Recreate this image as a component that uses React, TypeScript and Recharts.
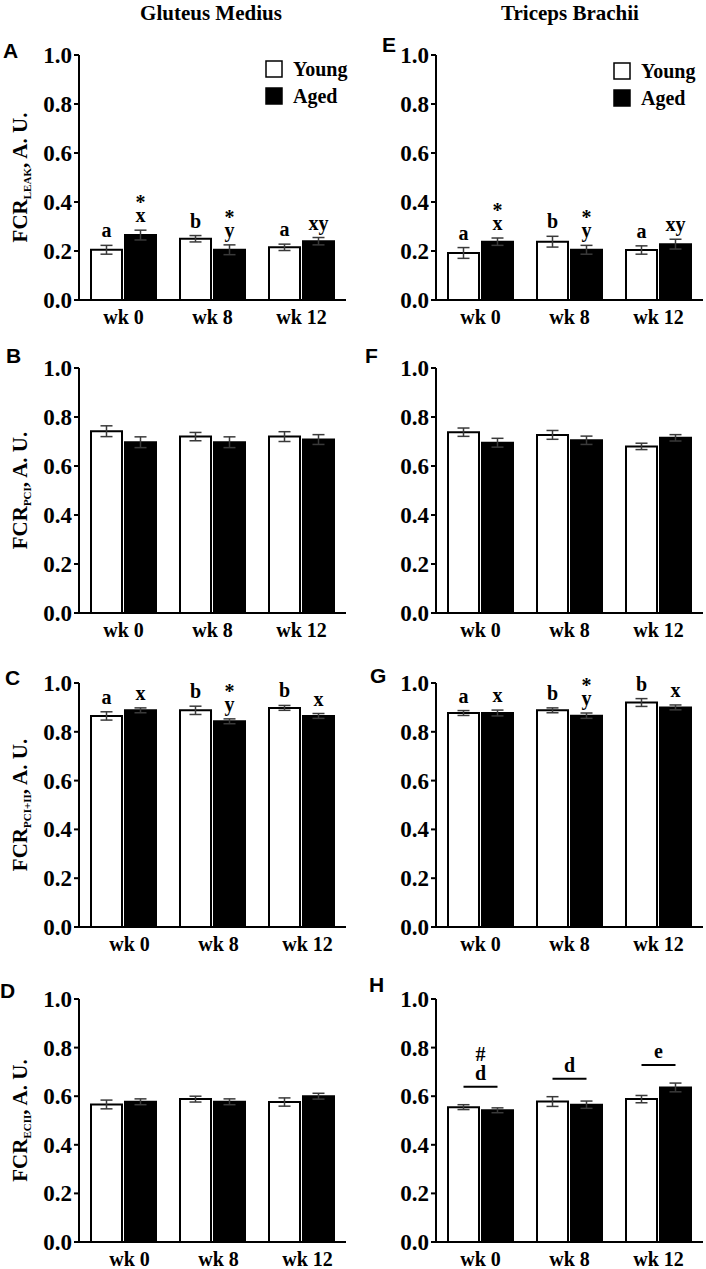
import React from 'react';
import { BarChart, Bar, XAxis, YAxis, ErrorBar, LabelList } from 'recharts';

const weeks = ['wk 0', 'wk 8', 'wk 12'];
const yTicks = [0, 0.2, 0.4, 0.6, 0.8, 1.0];

// A  gluteus medius, LEAK
const gmLeakYoung = [0.205, 0.25, 0.215];
const gmLeakYoungErr = [0.018, 0.013, 0.013];
const gmLeakAged = [0.265, 0.205, 0.24];
const gmLeakAgedErr = [0.02, 0.02, 0.015];
const gmLeakYoungNotes = [['a'], ['b'], ['a']];
const gmLeakAgedNotes = [['*', 'x'], ['*', 'y'], ['xy']];

// B  gluteus medius, PCI
const gmPciYoung = [0.742, 0.72, 0.72];
const gmPciYoungErr = [0.022, 0.017, 0.02];
const gmPciAged = [0.697, 0.697, 0.708];
const gmPciAgedErr = [0.022, 0.022, 0.02];

// C  gluteus medius, PCI+II
const gmPci2Young = [0.865, 0.888, 0.898];
const gmPci2YoungErr = [0.017, 0.017, 0.01];
const gmPci2Aged = [0.888, 0.843, 0.865];
const gmPci2AgedErr = [0.01, 0.01, 0.01];
const gmPci2YoungNotes = [['a'], ['b'], ['b']];
const gmPci2AgedNotes = [['x'], ['*', 'y'], ['x']];

// D  gluteus medius, ECII
const gmEciiYoung = [0.566, 0.588, 0.576];
const gmEciiYoungErr = [0.018, 0.012, 0.017];
const gmEciiAged = [0.577, 0.577, 0.6];
const gmEciiAgedErr = [0.012, 0.012, 0.012];

// E  triceps brachii, LEAK
const tbLeakYoung = [0.192, 0.238, 0.204];
const tbLeakYoungErr = [0.022, 0.022, 0.017];
const tbLeakAged = [0.238, 0.205, 0.228];
const tbLeakAgedErr = [0.015, 0.018, 0.02];
const tbLeakYoungNotes = [['a'], ['b'], ['a']];
const tbLeakAgedNotes = [['*', 'x'], ['*', 'y'], ['xy']];

// F  triceps brachii, PCI
const tbPciYoung = [0.738, 0.727, 0.68];
const tbPciYoungErr = [0.017, 0.018, 0.013];
const tbPciAged = [0.695, 0.705, 0.715];
const tbPciAgedErr = [0.018, 0.017, 0.013];

// G  triceps brachii, PCI+II
const tbPci2Young = [0.877, 0.888, 0.92];
const tbPci2YoungErr = [0.01, 0.01, 0.016];
const tbPci2Aged = [0.877, 0.866, 0.9];
const tbPci2AgedErr = [0.012, 0.011, 0.01];
const tbPci2YoungNotes = [['a'], ['b'], ['b']];
const tbPci2AgedNotes = [['x'], ['*', 'y'], ['x']];

// H  triceps brachii, ECII
const tbEciiYoung = [0.555, 0.578, 0.588];
const tbEciiYoungErr = [0.01, 0.02, 0.015];
const tbEciiAged = [0.542, 0.565, 0.636];
const tbEciiAgedErr = [0.01, 0.015, 0.018];
const tbEciiGroupNotes = [['#', 'd'], ['d'], ['e']];

const SERIF = '"Liberation Serif", "Times New Roman", serif';
const SANS = '"Liberation Sans", Arial, sans-serif';
const BAR_GAP = 3;
const ERR_COLOR = '#3a3a3a';

const rowTops = [55, 368, 683, 999];
const rowHeights = [245, 245, 244, 243];
const MARGIN_TOP = 30;
const XAXIS_H = 40;

type Row = { week: string; young: number; youngErr: number; aged: number; agedErr: number };

function makeRows(y: number[], ye: number[], a: number[], ae: number[]): Row[] {
  return weeks.map((week, i) => ({ week, young: y[i], youngErr: ye[i], aged: a[i], agedErr: ae[i] }));
}

type Panel = {
  letter: string;
  col: 0 | 1;
  row: number;
  sub?: string;
  rows: Row[];
  youngNotes?: string[][];
  agedNotes?: string[][];
  groupNotes?: string[][];
  tickDx?: number;
};

const panels: Panel[] = [
  { letter: 'A', col: 0, row: 0, sub: 'LEAK', rows: makeRows(gmLeakYoung, gmLeakYoungErr, gmLeakAged, gmLeakAgedErr), youngNotes: gmLeakYoungNotes, agedNotes: gmLeakAgedNotes },
  { letter: 'B', col: 0, row: 1, sub: 'PCI', rows: makeRows(gmPciYoung, gmPciYoungErr, gmPciAged, gmPciAgedErr) },
  { letter: 'C', col: 0, row: 2, sub: 'PCI+II', rows: makeRows(gmPci2Young, gmPci2YoungErr, gmPci2Aged, gmPci2AgedErr), youngNotes: gmPci2YoungNotes, agedNotes: gmPci2AgedNotes, tickDx: 6 },
  { letter: 'D', col: 0, row: 3, sub: 'ECII', rows: makeRows(gmEciiYoung, gmEciiYoungErr, gmEciiAged, gmEciiAgedErr), tickDx: 6 },
  { letter: 'E', col: 1, row: 0, rows: makeRows(tbLeakYoung, tbLeakYoungErr, tbLeakAged, tbLeakAgedErr), youngNotes: tbLeakYoungNotes, agedNotes: tbLeakAgedNotes },
  { letter: 'F', col: 1, row: 1, rows: makeRows(tbPciYoung, tbPciYoungErr, tbPciAged, tbPciAgedErr) },
  { letter: 'G', col: 1, row: 2, rows: makeRows(tbPci2Young, tbPci2YoungErr, tbPci2Aged, tbPci2AgedErr), youngNotes: tbPci2YoungNotes, agedNotes: tbPci2AgedNotes },
  { letter: 'H', col: 1, row: 3, rows: makeRows(tbEciiYoung, tbEciiYoungErr, tbEciiAged, tbEciiAgedErr), groupNotes: tbEciiGroupNotes },
];

const boldSerif = { fontFamily: SERIF, fontWeight: 700, fill: '#000' };

// letters stacked over one bar, just above its error bar
function barNote(rows: Row[], key: 'young' | 'aged', notes: string[][]) {
  return (props: any) => {
    const vb = props.viewBox || props;
    const x = Number(vb.x ?? props.x);
    const y = Number(vb.y ?? props.y);
    const width = Number(vb.width ?? props.width);
    const height = Number(vb.height ?? props.height);
    const lines = notes[props.index];
    if (!lines) return null;
    const r = rows[props.index];
    const perUnit = height / r[key];
    const top = y - perUnit * (key === 'young' ? r.youngErr : r.agedErr);
    const cx = x + width / 2;
    return (
      <text textAnchor="middle" fontSize={20} style={boldSerif}>
        {lines.map((l, i) => (
          <tspan key={i} x={cx} y={top - 8 - (lines.length - 1 - i) * 13}>{l}</tspan>
        ))}
      </text>
    );
  };
}

// line across both bars of a week, with letters on top (drawn from the aged bar)
function groupNote(rows: Row[], notes: string[][]) {
  return (props: any) => {
    const vb = props.viewBox || props;
    const x = Number(vb.x ?? props.x);
    const y = Number(vb.y ?? props.y);
    const width = Number(vb.width ?? props.width);
    const height = Number(vb.height ?? props.height);
    const lines = notes[props.index];
    if (!lines) return null;
    const r = rows[props.index];
    const perUnit = height / r.aged;
    const bottom = y + height;
    const top = bottom - perUnit * Math.max(r.young + r.youngErr, r.aged + r.agedErr);
    const lineY = top - 18;
    const x2 = x + width / 2;
    const x1 = x2 - width - BAR_GAP;
    const cx = (x1 + x2) / 2;
    return (
      <g>
        <line x1={x1} x2={x2} y1={lineY} y2={lineY} stroke="#000" strokeWidth={2} />
        <text textAnchor="middle" fontSize={20} style={boldSerif}>
          {lines.map((l, i) => (
            <tspan key={i} x={cx} y={lineY - 7 - (lines.length - 1 - i) * 19}>{l}</tspan>
          ))}
        </text>
      </g>
    );
  };
}

function yLabel(sub: string, plotH: number) {
  return () => {
    const cy = MARGIN_TOP + plotH / 2;
    const x = 27;
    return (
      <text transform={`rotate(-90, ${x}, ${cy})`} x={x} y={cy} textAnchor="middle" fontSize={21} style={boldSerif}>
        FCR<tspan fontSize={11} dy={4}>{sub}</tspan>
        <tspan dy={-4}>, A. U.</tspan>
      </text>
    );
  };
}

function xTick(dx: number) {
  return (props: any) => (
    <text x={props.x + dx} y={props.y} dy={15} textAnchor="middle" fontSize={20} style={boldSerif}>
      {props.payload.value}
    </text>
  );
}

function YTick(props: any) {
  return (
    <text x={props.x} y={props.y} dy={8} textAnchor="end" fontSize={23} style={boldSerif}>
      {Number(props.payload.value).toFixed(1)}
    </text>
  );
}

function PanelChart({ p }: { p: Panel }) {
  const plotH = rowHeights[p.row];
  const left = p.col === 0 ? 0 : 353;
  const axisW = p.col === 0 ? 79 : 83;
  const rightM = p.col === 0 ? 7 : 3;
  return (
    <div style={{ position: 'absolute', left, top: rowTops[p.row] - MARGIN_TOP }}>
      <BarChart
        width={353}
        height={MARGIN_TOP + plotH + XAXIS_H}
        data={p.rows}
        margin={{ top: MARGIN_TOP, right: rightM, left: 0, bottom: 0 }}
        barCategoryGap={12}
        barGap={BAR_GAP}
      >
        <XAxis
          dataKey="week"
          height={XAXIS_H}
          axisLine={{ stroke: '#000', strokeWidth: 2 }}
          tickLine={false}
          tickSize={6}
          tickMargin={3}
          tick={xTick(p.tickDx || 0)}
          interval={0}
        />
        <YAxis
          domain={[0, 1]}
          ticks={yTicks}
          width={axisW}
          axisLine={{ stroke: '#000', strokeWidth: 2 }}
          tickLine={{ stroke: '#000', strokeWidth: 2 }}
          tickSize={5}
          tickMargin={2}
          tick={YTick}
          allowDataOverflow
          label={p.sub ? { content: yLabel(p.sub, plotH) } : undefined}
        />
        <Bar dataKey="young" name="Young" fill="#fff" stroke="#000" strokeWidth={2} isAnimationActive={false}>
          <ErrorBar dataKey="youngErr" width={6} stroke={ERR_COLOR} strokeWidth={1.5} />
          {p.youngNotes && <LabelList dataKey="young" content={barNote(p.rows, 'young', p.youngNotes)} />}
        </Bar>
        <Bar dataKey="aged" name="Aged" fill="#000" stroke="#000" strokeWidth={2} isAnimationActive={false}>
          <ErrorBar dataKey="agedErr" width={6} stroke={ERR_COLOR} strokeWidth={1.5} />
          {p.agedNotes && <LabelList dataKey="aged" content={barNote(p.rows, 'aged', p.agedNotes)} />}
          {p.groupNotes && <LabelList dataKey="aged" content={groupNote(p.rows, p.groupNotes)} />}
        </Bar>
      </BarChart>
    </div>
  );
}

function Legend({ x, y }: { x: number; y: number }) {
  return (
    <g>
      <rect x={x} y={y} width={16} height={16} fill="#fff" stroke="#000" strokeWidth={1.5} />
      <text x={x + 27} y={y + 15} fontSize={20} style={boldSerif}>Young</text>
      <rect x={x} y={y + 27} width={16} height={16} fill="#000" stroke="#000" strokeWidth={1.5} />
      <text x={x + 27} y={y + 42} fontSize={20} style={boldSerif}>Aged</text>
    </g>
  );
}

const letterPos: Record<string, [number, number]> = {
  A: [3, 58], B: [6, 363], C: [5, 685], D: [0, 998],
  E: [382, 52], F: [365, 363], G: [370, 683], H: [369, 992],
};

export default function App() {
  return (
    <div style={{ position: 'absolute', left: 0, top: 0, width: 706, height: 1269, background: '#fff' }}>
      {panels.map((p) => <PanelChart key={p.letter} p={p} />)}
      <svg width={706} height={1269} style={{ position: 'absolute', left: 0, top: 0, pointerEvents: 'none' }}>
        <text x={211} y={20} textAnchor="middle" fontSize={21} style={boldSerif}>Gluteus Medius</text>
        <text x={570} y={20} textAnchor="middle" fontSize={21} style={boldSerif}>Triceps Brachii</text>
        {Object.entries(letterPos).map(([l, [x, y]]) => (
          <text key={l} x={x} y={y} fontSize={21} style={{ fontFamily: SANS, fontWeight: 700, fill: '#000' }}>{l}</text>
        ))}
        <Legend x={266} y={61} />
        <Legend x={614} y={63} />
      </svg>
    </div>
  );
}
